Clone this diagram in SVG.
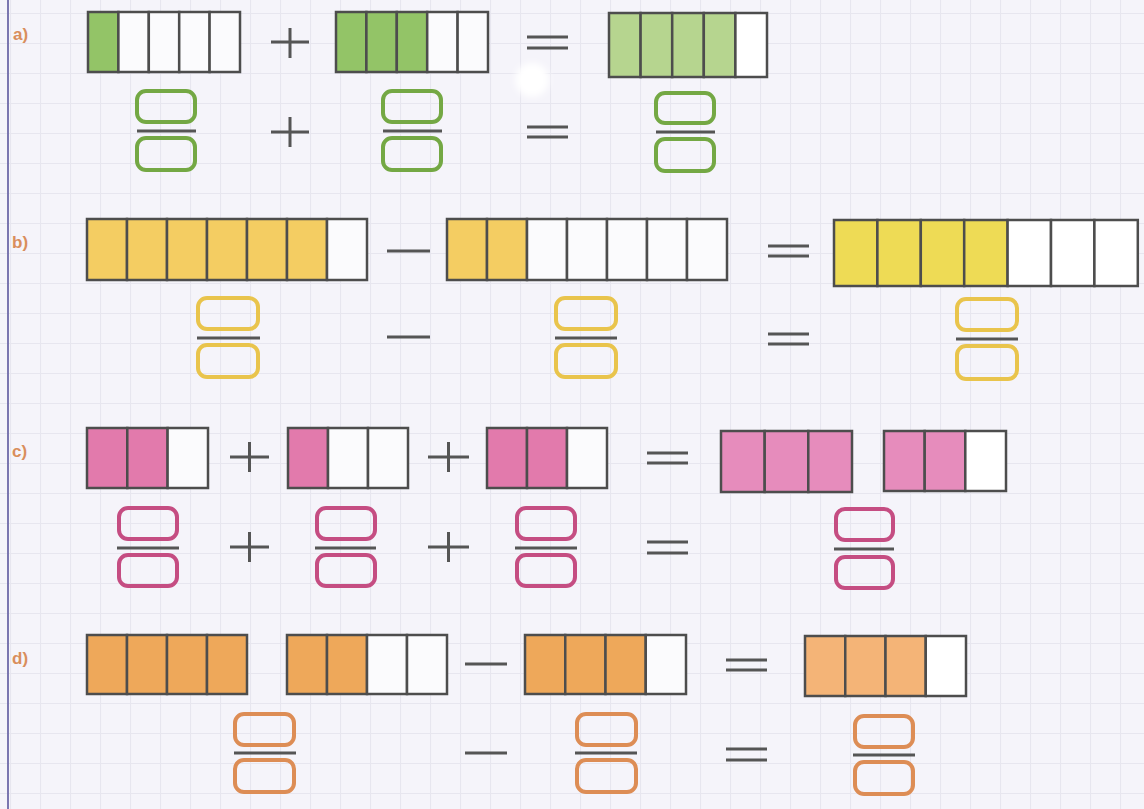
<svg xmlns="http://www.w3.org/2000/svg" width="1144" height="809" viewBox="0 0 1144 809">
<defs>
<pattern id="grid" width="30" height="30" patternUnits="userSpaceOnUse" x="10" y="13">
<path d="M0 0.5H30M0.5 0V30" stroke="#e7e6ef" stroke-width="1.2" fill="none"/>
</pattern>
<filter id="soft" x="-50%" y="-50%" width="200%" height="200%"><feGaussianBlur stdDeviation="3"/></filter>
</defs>
<style>
.c{stroke:#4d4d4d;stroke-width:2.5}
.e{fill:#fbfbfd}
.g1{fill:#93c467}.g2{fill:#b6d58f}
.y1{fill:#f4cd62}.y2{fill:#eedb55}
.p1{fill:#e27aac}.p2{fill:#e68cbc}
.o1{fill:#eea85a}.o2{fill:#f4b477}
.fb{fill:none;stroke-width:4}
.fg{stroke:#74a844}.fy{stroke:#e9c44c}.fp{stroke:#c54d82}.fo{stroke:#dd8d55}
.fl{stroke:#555;stroke-width:3}
.op{stroke:#555;stroke-width:3;fill:none}
.lab{font-family:"Liberation Sans",Arial,sans-serif;font-weight:bold;font-size:17px;fill:#d98e5c}
</style>
<rect width="1144" height="809" fill="#f5f4fa"/>
<rect width="1144" height="809" fill="url(#grid)"/>
<line x1="8" y1="0" x2="8" y2="809" stroke="#7b76b0" stroke-width="2"/>
<circle cx="532" cy="80" r="17" fill="#ffffff" filter="url(#soft)"/>

<g id="labels">
<text class="lab" x="13" y="40">a)</text>
<text class="lab" x="12" y="248">b)</text>
<text class="lab" x="12" y="457">c)</text>
<text class="lab" x="12" y="664">d)</text>
</g>

<g id="row-a">
<g id="bar-a1">
<rect class="c g1" x="88" y="12" width="30.4" height="60"/>
<rect class="c e" x="118.4" y="12" width="30.4" height="60"/>
<rect class="c e" x="148.8" y="12" width="30.4" height="60"/>
<rect class="c e" x="179.2" y="12" width="30.4" height="60"/>
<rect class="c e" x="209.6" y="12" width="30.4" height="60"/>
</g>
<g id="bar-a2">
<rect class="c g1" x="336" y="12" width="30.4" height="60"/>
<rect class="c g1" x="366.4" y="12" width="30.4" height="60"/>
<rect class="c g1" x="396.8" y="12" width="30.4" height="60"/>
<rect class="c e" x="427.2" y="12" width="30.4" height="60"/>
<rect class="c e" x="457.6" y="12" width="30.4" height="60"/>
</g>
<g id="bar-a3">
<rect class="c g2" x="609" y="13" width="31.6" height="64"/>
<rect class="c g2" x="640.6" y="13" width="31.6" height="64"/>
<rect class="c g2" x="672.2" y="13" width="31.6" height="64"/>
<rect class="c g2" x="703.8" y="13" width="31.6" height="64"/>
<rect class="c" fill="#ffffff" x="735.4" y="13" width="31.6" height="64"/>
</g>
<g id="frac-a1"><rect class="fb fg" x="137" y="91" width="58" height="31" rx="9"/><line class="fl" x1="137" y1="131" x2="196" y2="131"/><rect class="fb fg" x="137" y="138" width="58" height="32" rx="9"/></g>
<g id="frac-a2"><rect class="fb fg" x="383" y="91" width="58" height="31" rx="9"/><line class="fl" x1="383" y1="131" x2="442" y2="131"/><rect class="fb fg" x="383" y="138" width="58" height="32" rx="9"/></g>
<g id="frac-a3"><rect class="fb fg" x="656" y="93" width="58" height="30" rx="9"/><line class="fl" x1="656" y1="132" x2="715" y2="132"/><rect class="fb fg" x="656" y="139" width="58" height="32" rx="9"/></g>
</g>

<g id="row-b">
<g id="bar-b1">
<rect class="c y1" x="87" y="219" width="40" height="61"/>
<rect class="c y1" x="127" y="219" width="40" height="61"/>
<rect class="c y1" x="167" y="219" width="40" height="61"/>
<rect class="c y1" x="207" y="219" width="40" height="61"/>
<rect class="c y1" x="247" y="219" width="40" height="61"/>
<rect class="c y1" x="287" y="219" width="40" height="61"/>
<rect class="c e" x="327" y="219" width="40" height="61"/>
</g>
<g id="bar-b2">
<rect class="c y1" x="447" y="219" width="40" height="61"/>
<rect class="c y1" x="487" y="219" width="40" height="61"/>
<rect class="c e" x="527" y="219" width="40" height="61"/>
<rect class="c e" x="567" y="219" width="40" height="61"/>
<rect class="c e" x="607" y="219" width="40" height="61"/>
<rect class="c e" x="647" y="219" width="40" height="61"/>
<rect class="c e" x="687" y="219" width="40" height="61"/>
</g>
<g id="bar-b3">
<rect class="c y2" x="834" y="220" width="43.4" height="66"/>
<rect class="c y2" x="877.4" y="220" width="43.4" height="66"/>
<rect class="c y2" x="920.8" y="220" width="43.4" height="66"/>
<rect class="c y2" x="964.2" y="220" width="43.4" height="66"/>
<rect class="c" fill="#ffffff" x="1007.6" y="220" width="43.4" height="66"/>
<rect class="c" fill="#ffffff" x="1051" y="220" width="43.4" height="66"/>
<rect class="c" fill="#ffffff" x="1094.4" y="220" width="43.4" height="66"/>
</g>
<g id="frac-b1"><rect class="fb fy" x="198" y="298" width="60" height="31" rx="9"/><line class="fl" x1="197" y1="338" x2="260" y2="338"/><rect class="fb fy" x="198" y="345" width="60" height="32" rx="9"/></g>
<g id="frac-b2"><rect class="fb fy" x="556" y="298" width="60" height="31" rx="9"/><line class="fl" x1="555" y1="338" x2="617" y2="338"/><rect class="fb fy" x="556" y="345" width="60" height="32" rx="9"/></g>
<g id="frac-b3"><rect class="fb fy" x="957" y="299" width="60" height="31" rx="9"/><line class="fl" x1="956" y1="339" x2="1018" y2="339"/><rect class="fb fy" x="957" y="346" width="60" height="33" rx="9"/></g>
</g>

<g id="row-c">
<g id="bar-c1">
<rect class="c p1" x="87" y="428" width="40.3" height="60"/>
<rect class="c p1" x="127.3" y="428" width="40.3" height="60"/>
<rect class="c e" x="167.6" y="428" width="40.4" height="60"/>
</g>
<g id="bar-c2">
<rect class="c p1" x="288" y="428" width="40" height="60"/>
<rect class="c e" x="328" y="428" width="40" height="60"/>
<rect class="c e" x="368" y="428" width="40" height="60"/>
</g>
<g id="bar-c3">
<rect class="c p1" x="487" y="428" width="40" height="60"/>
<rect class="c p1" x="527" y="428" width="40" height="60"/>
<rect class="c e" x="567" y="428" width="40" height="60"/>
</g>
<g id="bar-c4">
<rect class="c p2" x="721" y="431" width="43.7" height="61"/>
<rect class="c p2" x="764.7" y="431" width="43.6" height="61"/>
<rect class="c p2" x="808.3" y="431" width="43.7" height="61"/>
</g>
<g id="bar-c5">
<rect class="c p2" x="884" y="431" width="40.7" height="60"/>
<rect class="c p2" x="924.7" y="431" width="40.6" height="60"/>
<rect class="c" fill="#ffffff" x="965.3" y="431" width="40.7" height="60"/>
</g>
<g id="frac-c1"><rect class="fb fp" x="119" y="508" width="58" height="31" rx="9"/><line class="fl" x1="117" y1="548" x2="179" y2="548"/><rect class="fb fp" x="119" y="555" width="58" height="31" rx="9"/></g>
<g id="frac-c2"><rect class="fb fp" x="317" y="508" width="58" height="31" rx="9"/><line class="fl" x1="315" y1="548" x2="376" y2="548"/><rect class="fb fp" x="317" y="555" width="58" height="31" rx="9"/></g>
<g id="frac-c3"><rect class="fb fp" x="517" y="508" width="58" height="31" rx="9"/><line class="fl" x1="515" y1="548" x2="577" y2="548"/><rect class="fb fp" x="517" y="555" width="58" height="31" rx="9"/></g>
<g id="frac-c4"><rect class="fb fp" x="836" y="509" width="57" height="31" rx="9"/><line class="fl" x1="834" y1="549" x2="894" y2="549"/><rect class="fb fp" x="836" y="557" width="57" height="31" rx="9"/></g>
</g>

<g id="row-d">
<g id="bar-d1">
<rect class="c o1" x="87" y="635" width="40" height="59"/>
<rect class="c o1" x="127" y="635" width="40" height="59"/>
<rect class="c o1" x="167" y="635" width="40" height="59"/>
<rect class="c o1" x="207" y="635" width="40" height="59"/>
</g>
<g id="bar-d2">
<rect class="c o1" x="287" y="635" width="40" height="59"/>
<rect class="c o1" x="327" y="635" width="40" height="59"/>
<rect class="c e" x="367" y="635" width="40" height="59"/>
<rect class="c e" x="407" y="635" width="40" height="59"/>
</g>
<g id="bar-d3">
<rect class="c o1" x="525" y="635" width="40.25" height="59"/>
<rect class="c o1" x="565.25" y="635" width="40.25" height="59"/>
<rect class="c o1" x="605.5" y="635" width="40.25" height="59"/>
<rect class="c e" x="645.75" y="635" width="40.25" height="59"/>
</g>
<g id="bar-d4">
<rect class="c o2" x="805" y="636" width="40.25" height="60"/>
<rect class="c o2" x="845.25" y="636" width="40.25" height="60"/>
<rect class="c o2" x="885.5" y="636" width="40.25" height="60"/>
<rect class="c" fill="#ffffff" x="925.75" y="636" width="40.25" height="60"/>
</g>
<g id="frac-d1"><rect class="fb fo" x="235" y="714" width="59" height="31" rx="9"/><line class="fl" x1="234" y1="753" x2="296" y2="753"/><rect class="fb fo" x="235" y="760" width="59" height="32" rx="9"/></g>
<g id="frac-d2"><rect class="fb fo" x="577" y="714" width="59" height="31" rx="9"/><line class="fl" x1="575" y1="753" x2="637" y2="753"/><rect class="fb fo" x="577" y="760" width="59" height="32" rx="9"/></g>
<g id="frac-d3"><rect class="fb fo" x="855" y="716" width="58" height="31" rx="9"/><line class="fl" x1="853" y1="755" x2="915" y2="755"/><rect class="fb fo" x="855" y="762" width="58" height="32" rx="9"/></g>
</g>

<g id="connectors">
<path class="op" d="M271 42H309M290 28V58"/>
<path class="op" d="M271 132H309M290 117V147"/>
<path class="op" d="M527 37H568M527 48H568"/>
<path class="op" d="M527 127H568M527 137H568"/>
<path class="op" d="M387 251H430"/>
<path class="op" d="M387 337H430"/>
<path class="op" d="M768 246H809M768 256H809"/>
<path class="op" d="M768 334H809M768 344H809"/>
<path class="op" d="M230 457H269M249.5 442V472"/>
<path class="op" d="M428 457H469M448.5 442V472"/>
<path class="op" d="M230 547H269M249.5 532V562"/>
<path class="op" d="M428 547H469M448.5 532V562"/>
<path class="op" d="M647 453H688M647 463H688"/>
<path class="op" d="M647 542H688M647 553H688"/>
<path class="op" d="M465 664H507"/>
<path class="op" d="M465 753H507"/>
<path class="op" d="M726 660H767M726 670H767"/>
<path class="op" d="M726 749H767M726 760H767"/>
</g>
</svg>
